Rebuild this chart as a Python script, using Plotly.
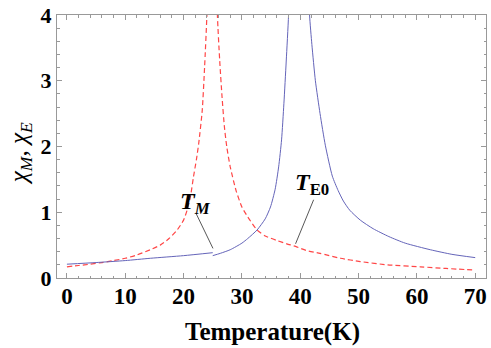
import plotly.graph_objects as go

# chi_E (red dashed), two branches around T_M
red_left_T = [0, 2, 4, 6, 8, 10, 12, 14.3, 16, 17.5, 18.9, 20, 20.6, 21.2, 21.7, 22.2, 22.6, 23.2, 23.6, 24.0, 24.3]
red_left_v = [0.17, 0.19, 0.21, 0.235, 0.265, 0.30, 0.35, 0.43, 0.50, 0.60, 0.73, 0.88, 1.03, 1.25, 1.54, 1.80, 2.05, 2.55, 3.2, 4.0, 5.0]
red_right_T = [25.6, 25.8, 26.2, 26.6, 27.0, 27.4, 28.0, 29.0, 30.0, 31.0, 32.6, 34.0, 36.0, 37.7, 39.2, 41.0, 43.4, 46.9, 50.3, 55, 60.6, 65, 70]
red_right_v = [5.0, 4.0, 3.3, 2.75, 2.3, 2.0, 1.69, 1.33, 1.08, 0.93, 0.73, 0.64, 0.57, 0.52, 0.48, 0.42, 0.375, 0.30, 0.25, 0.20, 0.17, 0.145, 0.12]

# chi_M (blue solid)
blue_a_T = [0, 5, 10, 14.3, 20, 25]
blue_a_v = [0.21, 0.235, 0.265, 0.30, 0.34, 0.385]
blue_b_T = [25, 26.3, 28, 30, 31, 32.6, 34, 34.9, 35.7, 36.3, 36.8, 37.2, 37.6, 38.0, 38.3]
blue_b_v = [0.34, 0.375, 0.43, 0.53, 0.60, 0.73, 0.90, 1.08, 1.35, 1.69, 2.1, 2.65, 3.3, 4.0, 5.0]
blue_c_T = [41.3, 41.6, 42.0, 42.6, 43.4, 44.3, 45.5, 46.5, 47.4, 48.5, 50.3, 52.5, 55.2, 58, 62.3, 66, 70]
blue_c_v = [5.0, 4.0, 3.55, 3.0, 2.5, 2.02, 1.55, 1.33, 1.17, 1.03, 0.88, 0.75, 0.63, 0.53, 0.43, 0.36, 0.31]

x_ticks = [0, 10, 20, 30, 40, 50, 60, 70]
y_ticks = [0, 1, 2, 3, 4]

# annotation pointer lines (data coords)
tm_line = ([22.1, 25.04], [0.99, 0.45])
te_line = ([42.3, 39.2], [1.19, 0.52])
tm_pos = (22.0, 1.14)
te_pos = (42.1, 1.43)

BLUE = "rgb(100,100,185)"
RED = "rgb(255,70,70)"
GRAY = "#999999"
SERIF = "Liberation Serif"

fig = go.Figure()
fig.add_trace(go.Scatter(x=red_left_T + [None] + red_right_T, y=red_left_v + [None] + red_right_v,
                         mode="lines", line=dict(color=RED, width=1.2, dash="5px,3px", shape="spline", smoothing=0.6),
                         connectgaps=False, showlegend=False))
fig.add_trace(go.Scatter(x=blue_a_T + [None] + blue_b_T + [None] + blue_c_T,
                         y=blue_a_v + [None] + blue_b_v + [None] + blue_c_v,
                         mode="lines", line=dict(color=BLUE, width=1, shape="spline", smoothing=0.6),
                         connectgaps=False, showlegend=False))
for lx, ly in (tm_line, te_line):
    fig.add_trace(go.Scatter(x=lx, y=ly, mode="lines", line=dict(color="#444444", width=0.9),
                             showlegend=False, hoverinfo="skip"))

fig.add_annotation(x=tm_pos[0], y=tm_pos[1], showarrow=False, xanchor="center", yanchor="middle",
                   text="<b><i>T</i></b><sub><b><i>M</i></b></sub>",
                   font=dict(family=SERIF, size=24, color="black"))
fig.add_annotation(x=te_pos[0], y=te_pos[1], showarrow=False, xanchor="center", yanchor="middle",
                   text="<b><i>T</i></b><sub><b>E0</b></sub>",
                   font=dict(family=SERIF, size=24, color="black"))

# axis titles as paper annotations
fig.add_annotation(xref="paper", yref="paper", x=0.502, y=-0.205, showarrow=False,
                   xanchor="center", yanchor="middle",
                   text="<b>Temperature(K)</b>", font=dict(family=SERIF, size=25, color="black"))
fig.add_annotation(xref="paper", yref="paper", x=-0.086, y=0.475, showarrow=False, textangle=-90,
                   xanchor="center", yanchor="middle",
                   text="<i>χ</i><sub><i>M</i></sub>, <i>χ</i><sub><i>E</i></sub>",
                   font=dict(family=SERIF, size=25, color="black"))

axis_common = dict(showline=True, linecolor=GRAY, linewidth=1, mirror="ticks",
                   ticks="inside", ticklen=5, tickcolor=GRAY, tickwidth=1,
                   showgrid=False, zeroline=False, automargin=False,
                   ticklabeloverflow="allow")

fig.update_layout(
    width=491, height=348,
    margin=dict(l=57, r=5, t=15, b=70),
    paper_bgcolor="white", plot_bgcolor="white",
    xaxis=dict(range=[-1.7, 71.85], tickvals=x_ticks, ticktext=[str(v) for v in x_ticks],
               tickfont=dict(family=SERIF, size=23, color="black", weight="bold"),
               ticklabelstandoff=-3,
               minor=dict(dtick=2, ticks="inside", ticklen=2.5, tickcolor=GRAY, showgrid=False),
               **axis_common),
    yaxis=dict(range=[0, 4], tickvals=y_ticks, ticktext=[str(v) for v in y_ticks],
               tickfont=dict(family=SERIF, size=22, color="black", weight="bold"),
               minor=dict(dtick=0.2, ticks="inside", ticklen=2.5, tickcolor=GRAY, showgrid=False),
               **axis_common),
)

fig.write_html("out.html", config={"displayModeBar": False},
               post_script="document.body.style.margin='0px';document.body.style.overflow='hidden';")
